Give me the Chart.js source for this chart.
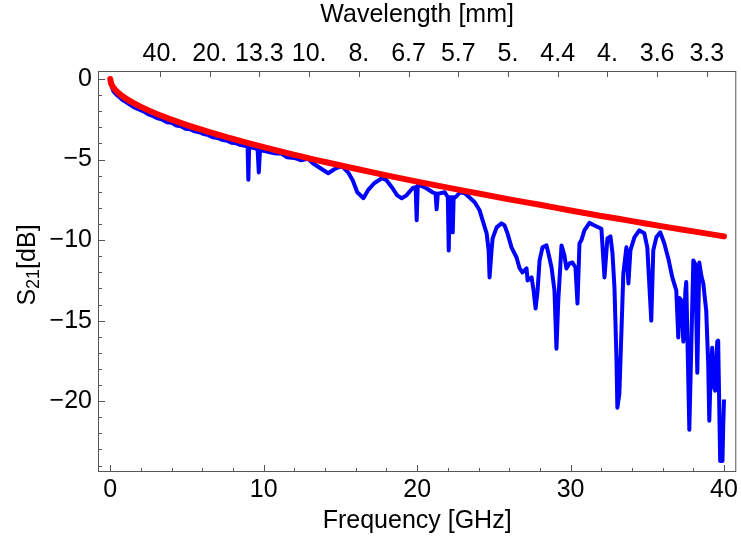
<!DOCTYPE html>
<html>
<head>
<meta charset="utf-8">
<script src="https://cdn.jsdelivr.net/npm/chart.js@4"></script>
<style>
html, body { margin: 0; padding: 0; background: #fff; }
#wrap { width: 741px; height: 545px; }
</style>
</head>
<body>
<div id="wrap"><canvas id="s21Chart" width="741" height="545"></canvas></div>
<script>
// measured transmission (blue)
const measuredFreq = [
    0.02, 0.2, 0.4, 0.6, 0.8, 1.0, 1.3, 1.6, 1.9, 2.2, 2.5, 2.8, 3.1, 3.4, 3.7, 4.0, 4.3, 4.6, 4.9, 5.2,
    5.5, 5.8, 6.1, 6.4, 6.7, 7.0, 7.3, 7.6, 7.9, 8.2, 8.5, 8.8, 8.95, 9.0, 9.05, 9.3, 9.6, 9.68, 9.76, 10.0,
    10.4, 10.8, 11.1, 11.5, 12.0, 12.4, 12.9, 13.2, 13.7, 14.2, 14.6, 15.1, 15.5, 15.8, 16.1, 16.5, 16.8, 17.2, 17.7, 18.0,
    18.4, 18.7, 19.0, 19.3, 19.7, 19.9, 19.97, 20.04, 20.2, 20.6, 21.0, 21.2, 21.27, 21.35, 21.5, 21.8, 22.0, 22.06, 22.12, 22.25,
    22.32, 22.38, 22.5, 22.8, 23.1, 23.4, 23.75, 24.07, 24.27, 24.53, 24.66, 24.72, 24.85, 24.92, 25.18, 25.5, 25.7, 25.89, 26.15, 26.48,
    26.68, 26.87, 27.13, 27.2, 27.46, 27.59, 27.72, 27.85, 27.98, 28.17, 28.43, 28.56, 28.76, 28.95, 29.08, 29.2, 29.41, 29.6, 29.73, 29.93,
    30.12, 30.32, 30.45, 30.58, 30.71, 30.9, 31.23, 31.56, 32.01, 32.21, 32.4, 32.6, 32.73, 32.86, 32.99, 33.05, 33.18, 33.31, 33.44, 33.64,
    33.77, 33.9, 34.16, 34.48, 34.81, 35.0, 35.26, 35.39, 35.59, 35.85, 36.11, 36.37, 36.63, 36.89, 37.02, 37.1, 37.22, 37.35, 37.48, 37.54,
    37.74, 38.0, 38.13, 38.26, 38.39, 38.52, 38.65, 38.84, 38.97, 39.04, 39.1, 39.23, 39.37, 39.43, 39.56, 39.62, 39.75, 39.9, 39.95, 40.0
];
const measuredS21 = [
    -0.3, -0.75, -0.97, -1.12, -1.3, -1.42, -1.6, -1.78, -1.9, -2.02, -2.2, -2.3, -2.44, -2.52, -2.68, -2.72, -2.88, -2.93, -3.08, -3.12,
    -3.25, -3.3, -3.42, -3.48, -3.62, -3.66, -3.78, -3.82, -3.95, -3.98, -4.1, -4.15, -4.2, -6.25, -4.2, -4.27, -4.35, -5.8, -4.38, -4.45,
    -4.55, -4.62, -4.6, -4.85, -4.9, -5.04, -4.95, -5.23, -5.54, -5.85, -5.6, -5.4, -5.79, -6.28, -7.03, -7.4, -6.9, -6.47, -6.16, -6.28,
    -6.78, -7.22, -7.4, -7.22, -6.78, -6.72, -8.77, -6.6, -6.6, -6.78, -7.03, -7.1, -8.09, -7.1, -7.09, -7.03, -7.34, -10.64, -7.34, -7.34,
    -9.52, -7.34, -7.34, -7.03, -7.09, -7.34, -7.65, -8.15, -8.77, -9.58, -10.64, -12.32, -10.64, -9.89, -9.21, -8.96, -9.09, -9.58, -10.45, -11.08,
    -11.76, -12.01, -11.76, -12.51, -12.32, -13.13, -14.25, -13.13, -11.26, -10.45, -10.33, -10.83, -11.7, -13.13, -16.74, -13.75, -10.33, -10.95, -11.76, -11.45,
    -11.39, -11.7, -13.94, -10.21, -10.0, -9.4, -8.93, -9.09, -9.3, -12.32, -9.89, -9.77, -10.8, -12.94, -17.3, -20.41, -19.54, -15.81, -12.07, -10.45,
    -12.69, -10.64, -9.83, -9.4, -9.58, -10.45, -15.0, -10.64, -9.83, -9.52, -10.21, -11.14, -12.32, -13.13, -16.05, -13.6, -13.75, -16.3, -13.2, -12.6,
    -21.78, -11.26, -11.5, -18.23, -11.39, -12.2, -12.69, -14.37, -17.67, -21.22, -19.3, -16.68, -19.2, -19.35, -16.3, -16.24, -23.71, -23.71, -21.5, -19.9
];

// fitted curve (red)
const fitFreq = [0, 0.05, 0.1, 0.2, 0.35, 0.5, 0.75, 1, 1.5, 2, 3, 4, 5, 6, 7, 8, 9, 10, 12, 14, 16, 18, 20, 22, 24, 26, 28, 30, 32, 34, 36, 38, 40];
const fitS21 = [0, -0.26, -0.36, -0.52, -0.69, -0.83, -1.03, -1.2, -1.48, -1.73, -2.16, -2.52, -2.86, -3.16, -3.45, -3.72, -3.98, -4.23, -4.71, -5.15, -5.57, -5.98, -6.37, -6.74, -7.11, -7.47, -7.81, -8.16, -8.5, -8.82, -9.15, -9.46, -9.77];

// axes
const freqMajorTicks = [0, 10, 20, 30, 40];
const freqMinorTicks = [2, 4, 6, 8, 12, 14, 16, 18, 22, 24, 26, 28, 32, 34, 36, 38];
const s21MajorTicks = [0, -5, -10, -15, -20];
const s21MinorTicks = [-1, -2, -3, -4, -6, -7, -8, -9, -11, -12, -13, -14, -16, -17, -18, -19, -21, -22, -23, -24];
const wavelengthTickFreqs = [3.24, 6.48, 9.72, 12.96, 16.2, 19.44, 22.68, 25.92, 29.16, 32.4, 35.64, 38.88];
const wavelengthTickLabels = ["40.", "20.", "13.3", "10.", "8.", "6.7", "5.7", "5.", "4.4", "4.", "3.6", "3.3"];

const FONT = "'Liberation Sans', Arial, sans-serif";
const FONT_SIZE = 25;
const FRAME_COLOR = "#555";

function toPoints(xs, ys) {
    return xs.map((x, i) => ({ x: x, y: ys[i] }));
}

function minusSign(v) {
    return v < 0 ? "\u2212" + Math.abs(v) : String(v);
}

// frame, inward ticks and axis titles, drawn the way the original plot has them
const frameAndTitles = {
    id: "frameAndTitles",
    afterDraw(chart) {
        const ctx = chart.ctx;
        const a = chart.chartArea;
        const x = chart.scales.x;
        const y = chart.scales.y;
        ctx.save();
        ctx.strokeStyle = FRAME_COLOR;
        ctx.lineWidth = 1;
        ctx.strokeRect(a.left + 0.5, a.top + 0.5, a.right - a.left - 1, a.bottom - a.top - 1);

        ctx.beginPath();
        const xTick = (v, len) => {
            const px = Math.round(x.getPixelForValue(v)) + 0.5;
            ctx.moveTo(px, a.bottom);
            ctx.lineTo(px, a.bottom - len);
        };
        const yTick = (v, len) => {
            const py = Math.round(y.getPixelForValue(v)) + 0.5;
            ctx.moveTo(a.left, py);
            ctx.lineTo(a.left + len, py);
        };
        freqMajorTicks.forEach(v => xTick(v, 7));
        freqMinorTicks.forEach(v => xTick(v, 4));
        s21MajorTicks.forEach(v => yTick(v, 7));
        s21MinorTicks.forEach(v => yTick(v, 4));
        wavelengthTickFreqs.forEach(v => {
            const px = Math.round(x.getPixelForValue(v)) + 0.5;
            ctx.moveTo(px, a.top);
            ctx.lineTo(px, a.top + 6);
        });
        ctx.stroke();

        ctx.fillStyle = "#000";
        ctx.font = FONT_SIZE + "px " + FONT;
        ctx.textAlign = "center";
        ctx.textBaseline = "middle";
        const cx = (a.left + a.right) / 2;
        ctx.fillText("Frequency [GHz]", cx, 521);
        ctx.fillText("Wavelength [mm]", cx, 15);

        // S21[dB] with subscript, rotated
        ctx.translate(27, 265);
        ctx.rotate(-Math.PI / 2);
        const big = FONT_SIZE + "px " + FONT;
        const small = Math.round(FONT_SIZE * 0.7) + "px " + FONT;
        ctx.font = big;
        const wS = ctx.measureText("S").width;
        const wB = ctx.measureText("[dB]").width;
        ctx.font = small;
        const wSub = ctx.measureText("21").width;
        let left = -(wS + wSub + wB) / 2;
        ctx.textAlign = "left";
        ctx.textBaseline = "alphabetic";
        ctx.font = big;
        ctx.fillText("S", left, 8);
        left += wS;
        ctx.font = small;
        ctx.fillText("21", left, 12);
        left += wSub;
        ctx.font = big;
        ctx.fillText("[dB]", left, 8);
        ctx.restore();
    }
};

const chartContext = document.getElementById("s21Chart").getContext("2d");

const s21Chart = new Chart(chartContext, {
    type: "line",
    data: {
        datasets: [
            {
                label: "fit",
                data: toPoints(fitFreq, fitS21),
                borderColor: "#ff0000",
                borderWidth: 6,
                borderCapStyle: "round",
                cubicInterpolationMode: "monotone",
                pointRadius: 0,
                fill: false
            },
            {
                label: "measured",
                data: toPoints(measuredFreq, measuredS21),
                borderColor: "#0000ff",
                borderWidth: 4,
                borderJoinStyle: "round",
                tension: 0,
                pointRadius: 0,
                fill: false
            }
        ]
    },
    options: {
        responsive: false,
        animation: false,
        devicePixelRatio: 1,
        layout: { padding: { left: 0, right: 2, top: 0, bottom: 0 } },
        plugins: {
            legend: { display: false },
            tooltip: { enabled: false }
        },
        scales: {
            x: {
                type: "linear",
                position: "bottom",
                min: -0.8,
                max: 40.8,
                afterBuildTicks: s => { s.ticks = freqMajorTicks.map(v => ({ value: v })); },
                afterFit: s => { s.height = 73; },
                grid: { display: false, drawTicks: false },
                border: { display: false },
                ticks: {
                    font: { family: FONT, size: FONT_SIZE },
                    color: "#000",
                    padding: 3,
                    maxRotation: 0,
                    autoSkip: false
                }
            },
            xTop: {
                type: "linear",
                position: "top",
                min: -0.8,
                max: 40.8,
                afterBuildTicks: s => { s.ticks = wavelengthTickFreqs.map(v => ({ value: v })); },
                afterFit: s => { s.height = 71; },
                grid: { display: false, drawTicks: false },
                border: { display: false },
                ticks: {
                    font: { family: FONT, size: FONT_SIZE },
                    color: "#000",
                    padding: 2,
                    maxRotation: 0,
                    autoSkip: false,
                    callback: (v, i) => wavelengthTickLabels[i]
                }
            },
            y: {
                type: "linear",
                min: -24.4,
                max: 0.5,
                afterBuildTicks: s => { s.ticks = s21MajorTicks.map(v => ({ value: v })); },
                afterFit: s => { s.width = 98; },
                grid: { display: false, drawTicks: false },
                border: { display: false },
                ticks: {
                    font: { family: FONT, size: FONT_SIZE },
                    color: "#000",
                    padding: 6,
                    autoSkip: false,
                    callback: v => minusSign(v)
                }
            }
        }
    },
    plugins: [frameAndTitles]
});
</script>
</body>
</html>
